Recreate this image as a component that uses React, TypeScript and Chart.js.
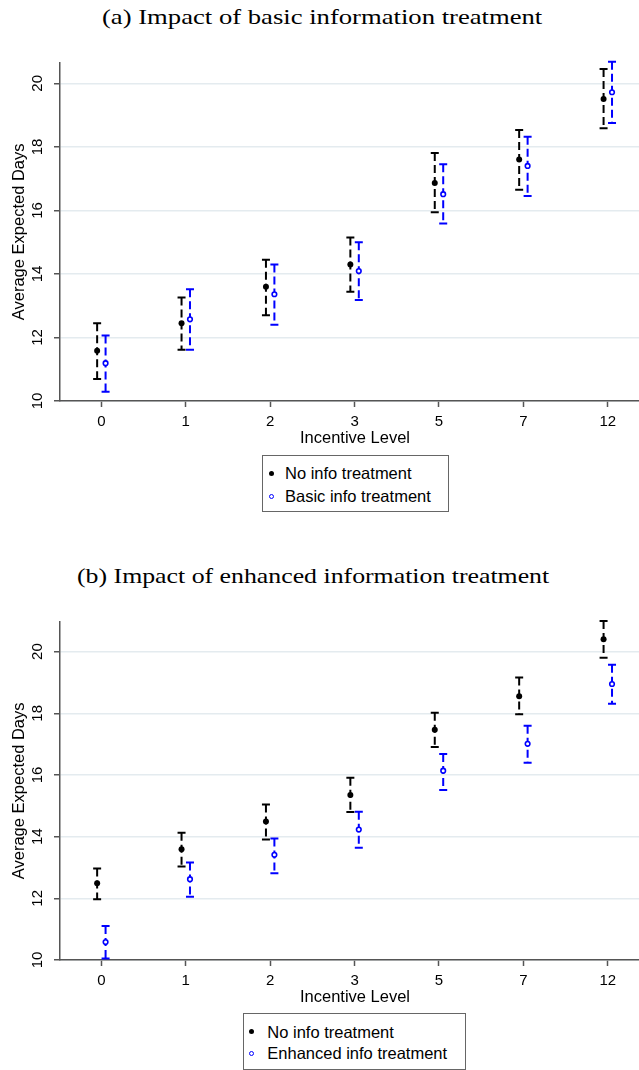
import React, { useEffect, useLayoutEffect, useRef } from 'react';
import { Chart, registerables } from 'chart.js';

Chart.register(...registerables);

// ---------- data ----------
const incentiveLevels = ['0', '1', '2', '3', '5', '7', '12'];
const yTickValues = [10, 12, 14, 16, 18, 20];

// Panel (a)
const noInfoMeanA = [11.58, 12.45, 13.6, 14.3, 16.86, 17.6, 19.51];
const noInfoLowA = [10.69, 11.61, 12.7, 13.44, 15.94, 16.65, 18.59];
const noInfoHighA = [12.45, 13.26, 14.45, 15.15, 17.81, 18.53, 20.45];
const basicMeanA = [11.19, 12.57, 13.36, 14.09, 16.51, 17.4, 19.72];
const basicLowA = [10.29, 11.61, 12.4, 13.18, 15.59, 16.45, 18.75];
const basicHighA = [12.06, 13.52, 14.3, 15.0, 17.45, 18.32, 20.68];

// Panel (b)
const noInfoMeanB = [12.49, 13.59, 14.49, 15.35, 17.47, 18.55, 20.4];
const noInfoLowB = [11.97, 13.03, 13.91, 14.8, 16.91, 17.97, 19.8];
const noInfoHighB = [12.97, 14.13, 15.04, 15.91, 18.02, 19.16, 20.99];
const enhancedMeanB = [10.58, 12.62, 13.41, 14.23, 16.14, 17.01, 18.95];
const enhancedLowB = [10.05, 12.05, 12.81, 13.64, 15.51, 16.4, 18.31];
const enhancedHighB = [11.1, 13.16, 13.94, 14.81, 16.68, 17.6, 19.57];

const BLACK = '#000000';
const BLUE = '#0000ff';
const AXIS = '#555555';
const GRID = '#e4ebef';
const SANS = '"Liberation Sans", Arial, sans-serif';
const SERIF = '"Liberation Serif", "Times New Roman", serif';

const errorBarPlugin = {
  id: 'errorBars',
  beforeDatasetsDraw(chart: any) {
    const ctx = chart.ctx;
    const xs = chart.scales.x;
    const ys = chart.scales.y;
    chart.data.datasets.forEach((ds: any) => {
      ctx.save();
      ctx.strokeStyle = ds.borderColor;
      ctx.lineWidth = 2;
      ds.data.forEach((pt: any, i: number) => {
        const x = xs.getPixelForValue(pt.x);
        const yl = ys.getPixelForValue(ds.errLow[i]);
        const yh = ys.getPixelForValue(ds.errHigh[i]);
        ctx.setLineDash([8, 4]);
        ctx.beginPath();
        ctx.moveTo(x, yh);
        ctx.lineTo(x, yl);
        ctx.stroke();
        ctx.setLineDash([]);
        ctx.beginPath();
        ctx.moveTo(x - 4, yh);
        ctx.lineTo(x + 4, yh);
        ctx.moveTo(x - 4, yl);
        ctx.lineTo(x + 4, yl);
        ctx.stroke();
      });
      ctx.restore();
    });
  },
};

function makeDataset(label: string, mean: number[], low: number[], high: number[], offset: number, hollow: boolean) {
  return {
    type: 'scatter',
    label,
    data: mean.map((v, i) => ({ x: i + offset, y: v })),
    errLow: low,
    errHigh: high,
    showLine: false,
    borderColor: hollow ? BLUE : BLACK,
    backgroundColor: hollow ? '#ffffff' : BLACK,
    pointRadius: hollow ? 2.3 : 3,
    pointBorderWidth: hollow ? 1.6 : 0,
    pointBackgroundColor: hollow ? '#ffffff' : BLACK,
    pointBorderColor: hollow ? BLUE : BLACK,
    clip: false,
  };
}

function buildOptions(yMax: number, padTop: number) {
  const tickFont = { family: SANS, size: 15 };
  const titleFont = { family: SANS, size: 16.5 };
  return {
    responsive: false,
    animation: false,
    events: [],
    layout: { autoPadding: false, padding: { top: padTop, left: 0, right: 0, bottom: 0 } },
    plugins: {
      legend: { display: false },
      tooltip: { enabled: false },
      title: { display: false },
    },
    scales: {
      x: {
        type: 'linear',
        min: -0.49,
        max: 6.5,
        afterBuildTicks: (s: any) => {
          s.ticks = incentiveLevels.map((_, i) => ({ value: i }));
        },
        afterFit: (s: any) => {
          s.height = 49;
          s.paddingLeft = 0;
          s.paddingRight = 0;
          s.paddingTop = 0;
          s.paddingBottom = 0;
        },
        ticks: {
          callback: (v: any) => incentiveLevels[v] ?? '',
          font: tickFont,
          color: '#000',
          padding: 6,
          minRotation: 0,
          maxRotation: 0,
          autoSkip: false,
        },
        grid: { drawOnChartArea: false, drawTicks: true, tickLength: 6, tickColor: AXIS, tickWidth: 1.5 },
        border: { display: true, color: AXIS, width: 1.5 },
        title: {
          display: true,
          text: 'Incentive Level',
          font: titleFont,
          color: '#000',
          padding: { top: 0, bottom: 2 },
        },
      },
      y: {
        type: 'linear',
        min: 10,
        max: yMax,
        afterBuildTicks: (s: any) => {
          s.ticks = yTickValues.map((v) => ({ value: v }));
        },
        afterFit: (s: any) => {
          s.width = 60;
          s.paddingLeft = 0;
          s.paddingRight = 0;
          s.paddingTop = 0;
          s.paddingBottom = 0;
        },
        ticks: {
          minRotation: 90,
          maxRotation: 90,
          crossAlign: 'center',
          padding: 7.5,
          font: tickFont,
          color: '#000',
          callback: (v: any) => String(v),
        },
        grid: { color: GRID, lineWidth: 1.5, drawTicks: true, tickLength: 6, tickColor: AXIS, tickWidth: 1.5 },
        border: { display: true, color: AXIS, width: 1.5 },
        title: {
          display: true,
          text: 'Average Expected Days',
          font: titleFont,
          color: '#000',
          padding: { top: 10, bottom: 0 },
        },
      },
    },
  };
}

function ErrorBarChart(props: { top: number; height: number; yMax: number; padTop: number; datasets: any[] }) {
  const ref = useRef<HTMLCanvasElement | null>(null);
  useEffect(() => {
    if (!ref.current) return;
    const chart = new Chart(ref.current, {
      type: 'scatter',
      data: { datasets: props.datasets },
      options: buildOptions(props.yMax, props.padTop) as any,
      plugins: [errorBarPlugin],
    } as any);
    return () => chart.destroy();
  }, []);
  return (
    <div style={{ position: 'absolute', left: 0, top: props.top, width: 650, height: props.height }}>
      <canvas ref={ref} width={650} height={props.height} style={{ width: 650, height: props.height, display: 'block' }} />
    </div>
  );
}

function PanelTitle(props: { text: string; left: number; top: number; width: number }) {
  const ref = useRef<HTMLSpanElement | null>(null);
  useLayoutEffect(() => {
    const el = ref.current;
    if (!el) return;
    const w = el.offsetWidth;
    if (w > 0) el.style.transform = `scaleX(${props.width / w})`;
  }, []);
  return (
    <span
      ref={ref}
      style={{
        position: 'absolute',
        left: props.left,
        top: props.top,
        fontFamily: SERIF,
        fontSize: 21.5,
        lineHeight: '21.5px',
        whiteSpace: 'nowrap',
        color: '#000',
        transformOrigin: 'left center',
      }}
    >
      {props.text}
    </span>
  );
}

function LegendBox(props: {
  left: number;
  top: number;
  width: number;
  height: number;
  markerX: number;
  textX: number;
  rows: { label: string; hollow: boolean; y: number }[];
}) {
  return (
    <>
      <div
        style={{
          position: 'absolute',
          left: props.left,
          top: props.top,
          width: props.width,
          height: props.height,
          border: '1px solid #666',
          boxSizing: 'border-box',
          background: '#fff',
        }}
      />
      {props.rows.map((r) => (
        <React.Fragment key={r.label}>
          <div
            style={{
              position: 'absolute',
              left: props.markerX - 2.5,
              top: r.y - 2.5,
              width: 5,
              height: 5,
              borderRadius: '50%',
              boxSizing: 'border-box',
              background: r.hollow ? '#fff' : BLACK,
              border: r.hollow ? `1.5px solid ${BLUE}` : 'none',
            }}
          />
          <span
            style={{
              position: 'absolute',
              left: props.textX,
              top: r.y - 8.1,
              fontFamily: SANS,
              fontSize: 16.5,
              lineHeight: '16.5px',
              whiteSpace: 'nowrap',
              color: '#000',
            }}
          >
            {r.label}
          </span>
        </React.Fragment>
      ))}
    </>
  );
}

export default function App() {
  const datasetsA = [
    makeDataset('No info treatment', noInfoMeanA, noInfoLowA, noInfoHighA, -0.05, false),
    makeDataset('Basic info treatment', basicMeanA, basicLowA, basicHighA, 0.05, true),
  ];
  const datasetsB = [
    makeDataset('No info treatment', noInfoMeanB, noInfoLowB, noInfoHighB, -0.05, false),
    makeDataset('Enhanced info treatment', enhancedMeanB, enhancedLowB, enhancedHighB, 0.05, true),
  ];
  return (
    <div
      style={{
        position: 'absolute',
        left: 0,
        top: 0,
        width: 639,
        height: 1070,
        overflow: 'hidden',
        background: '#fff',
      }}
    >
      <PanelTitle text="(a) Impact of basic information treatment" left={101.7} top={6.5} width={440} />
      <ErrorBarChart top={50} height={400} yMax={20.65} padTop={12.7} datasets={datasetsA} />
      <LegendBox
        left={262}
        top={455}
        width={187}
        height={57}
        markerX={271.7}
        textX={285}
        rows={[
          { label: 'No info treatment', hollow: false, y: 473.3 },
          { label: 'Basic info treatment', hollow: true, y: 496 },
        ]}
      />
      <PanelTitle text="(b) Impact of enhanced information treatment" left={76.7} top={565.5} width={471.7} />
      <ErrorBarChart top={610} height={399} yMax={20.97} padTop={11.7} datasets={datasetsB} />
      <LegendBox
        left={243}
        top={1013}
        width={223}
        height={57}
        markerX={251.7}
        textX={267.3}
        rows={[
          { label: 'No info treatment', hollow: false, y: 1031.7 },
          { label: 'Enhanced info treatment', hollow: true, y: 1053.5 },
        ]}
      />
    </div>
  );
}
